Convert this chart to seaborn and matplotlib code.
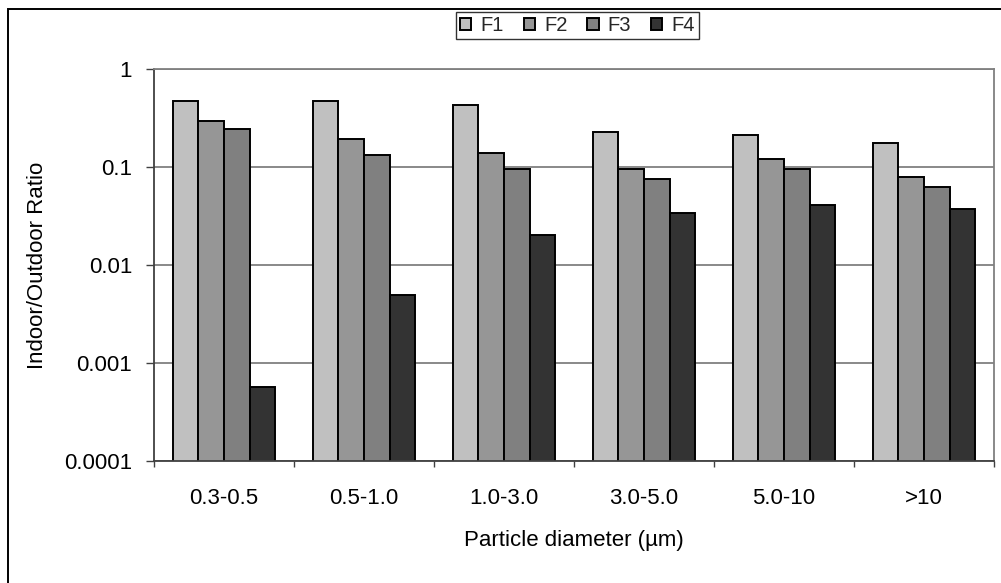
import matplotlib
matplotlib.use("Agg")
import matplotlib.pyplot as plt
import seaborn as sns
import pandas as pd
from matplotlib.ticker import FixedLocator, FixedFormatter, NullLocator
from matplotlib.patches import Rectangle

categories = ["0.3-0.5", "0.5-1.0", "1.0-3.0", "3.0-5.0", "5.0-10", ">10"]
series_names = ["F1", "F2", "F3", "F4"]
F1 = [0.47, 0.47, 0.43, 0.23, 0.21, 0.175]
F2 = [0.295, 0.193, 0.139, 0.0955, 0.12, 0.079]
F3 = [0.244, 0.1325, 0.0955, 0.0755, 0.0955, 0.0625]
F4 = [0.00057, 0.00494, 0.0202, 0.0337, 0.0406, 0.0373]
y_ticks = [0.0001, 0.001, 0.01, 0.1, 1]
y_tick_labels = ["0.0001", "0.001", "0.01", "0.1", "1"]
colors = ["#C0C0C0", "#969696", "#808080", "#333333"]

rows = []
for name, vals in zip(series_names, [F1, F2, F3, F4]):
    for c, v in zip(categories, vals):
        rows.append({"size": c, "ratio": v, "series": name})
df = pd.DataFrame(rows)

sns.set_theme(style="white")
plt.rcParams["font.family"] = ["Liberation Sans", "DejaVu Sans"]

W, H = 1001, 583
fig = plt.figure(figsize=(W / 100, H / 100), dpi=100)
ax = fig.add_axes([154 / W, 1 - 461 / H, (994 - 154) / W, (461 - 69) / H])
ax.set_yscale("log")

sns.barplot(data=df, x="size", y="ratio", hue="series", order=categories,
            hue_order=series_names, palette=colors, width=0.73, gap=0,
            edgecolor="black", linewidth=1.4, saturation=1, ax=ax,
            errorbar=None)

ax.set_ylim(1e-4, 1)
ax.set_xlim(-0.5, 5.5)
ax.yaxis.set_major_locator(FixedLocator(y_ticks))
ax.yaxis.set_major_formatter(FixedFormatter(y_tick_labels))
ax.yaxis.set_minor_locator(NullLocator())
ax.grid(axis="y", which="major", color="#808080", linewidth=1.3)
ax.grid(axis="x", visible=False)
ax.set_axisbelow(True)

ax.tick_params(axis="y", which="major", direction="out", length=5.8, width=1,
               color="#404040", pad=10, labelsize=16, labelcolor="black",
               left=True)
ax.set_xticks([i - 0.5 for i in range(7)], minor=True)
ax.tick_params(axis="x", which="major", length=0, pad=19.5, labelsize=16,
               labelcolor="black")
ax.tick_params(axis="x", which="minor", direction="out", length=4.5, width=1,
               color="#404040", bottom=True)

for side in ["left", "bottom"]:
    ax.spines[side].set_color("#404040")
    ax.spines[side].set_linewidth(1.3)
for side in ["top", "right"]:
    ax.spines[side].set_color("#808080")
    ax.spines[side].set_linewidth(1.3)

ax.set_xlabel("Particle diameter (µm)", fontsize=16, color="black")
ax.xaxis.set_label_coords(0.5, (461 - 530) / 392)
ax.set_ylabel("Indoor/Outdoor Ratio", fontsize=16, color="black")
ax.yaxis.label.set_va("center")
ax.yaxis.set_label_coords((38 - 154) / 840, 0.5)

handles, labels = ax.get_legend_handles_labels()
ax.get_legend().remove()
leg = fig.legend(handles, labels, loc="center",
                 bbox_to_anchor=(577.5 / W, 1 - 25.5 / H), ncol=4,
                 frameon=True, fancybox=False, edgecolor="black",
                 fontsize=14.5, handlelength=0.55, handleheight=0.55,
                 handletextpad=0.45, columnspacing=1.0, borderpad=0.2,
                 borderaxespad=0)
leg.get_frame().set_linewidth(1.0)
for h in leg.legend_handles:
    h.set_edgecolor("black")
    h.set_linewidth(1.4)

fig.patches.append(Rectangle((8 / W, -0.02), 1.1, 1 - 9 / H + 0.02,
                             transform=fig.transFigure, fill=False,
                             edgecolor="black", linewidth=1.4))

fig.savefig("out.png", dpi=100)
